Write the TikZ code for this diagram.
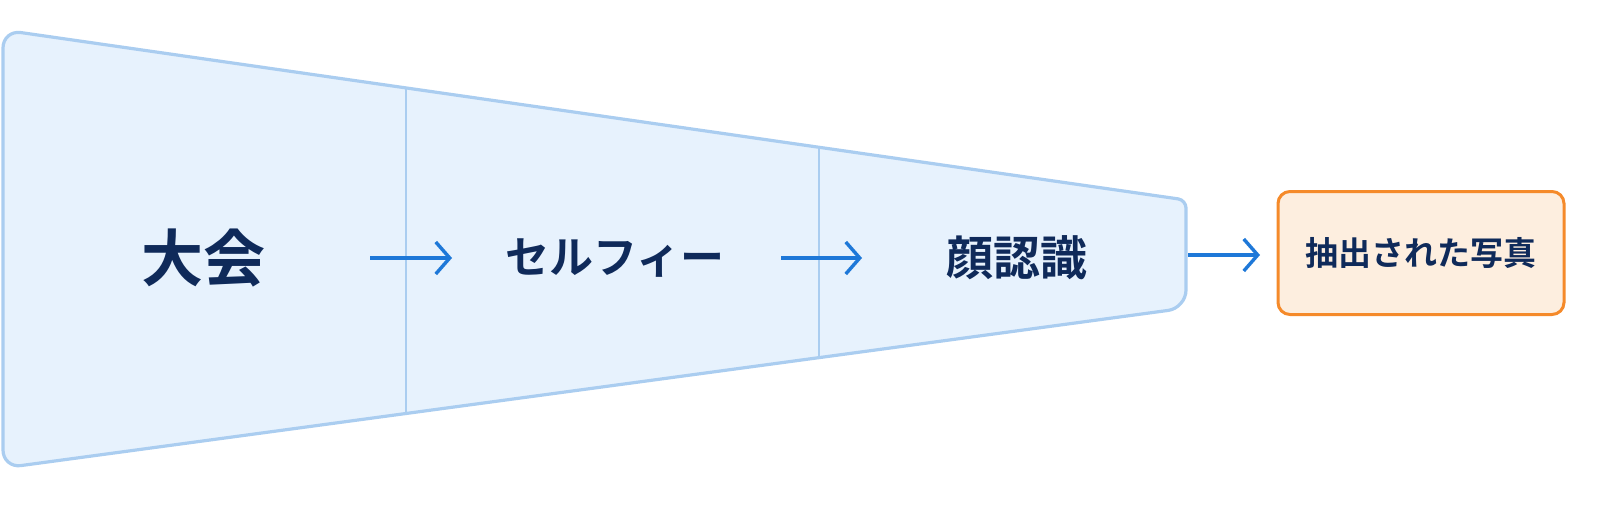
\documentclass[tikz,border=0pt]{standalone}
\usepackage{fontspec}
\newfontfamily\jp{Noto Sans CJK JP}[BoldFont={Noto Sans CJK JP Bold}]
\usetikzlibrary{arrows.meta}
\definecolor{funfill}{HTML}{E7F2FD}
\definecolor{funline}{HTML}{AACDF0}
\definecolor{arrowblue}{HTML}{1E78D8}
\definecolor{textnavy}{HTML}{0F2A5A}
\definecolor{boxline}{HTML}{F58A2A}
\definecolor{boxfill}{HTML}{FDEEDF}
\tikzset{
    txt/.style={text=textnavy, inner sep=0pt},
    flow/.style={arrowblue, line width=1.7pt, -{Straight Barb[length=7pt, width=16pt, line width=1.7pt]}}
}
\begin{document}
\begin{tikzpicture}[x=0.5pt, y=-0.5pt]
    \useasboundingbox (0, 0) rectangle (1600, 509);

    \coordinate (tl) at (3, 30);
    \coordinate (bl) at (3, 468);
    \coordinate (tr) at (1186, 200);
    \coordinate (br) at (1186, 308);
    \filldraw[fill=funfill, draw=funline, line width=1.6pt, rounded corners=9pt]
        (tr) -- (tl) -- (bl) -- (br) [rounded corners=4pt] -- cycle;

    \coordinate (t1) at (406, 88);
    \coordinate (b1) at (406, 413);
    \coordinate (t2) at (819, 147);
    \coordinate (b2) at (819, 358);
    \draw[funline, line width=1.2pt] (t1) -- (b1);
    \draw[funline, line width=1.2pt] (t2) -- (b2);

    \node[txt, font=\jp\bfseries\fontsize{31}{31}\selectfont] (0) at (203, 258) {大会};
    \node[txt, font=\jp\bfseries\fontsize{22}{22}\selectfont] (1) at (615, 258) {セルフィー};
    \node[txt, font=\jp\bfseries\fontsize{23.5}{23.5}\selectfont] (2) at (1017, 258) {顔認識};
    \node[txt, font=\jp\bfseries\fontsize{16.5}{16.5}\selectfont, draw=boxline, fill=boxfill,
        line width=1.5pt, rounded corners=6pt, minimum width=143pt, minimum height=61.5pt] (3) at (1421, 253) {抽出された写真};

    \coordinate (a0) at (370, 258);
    \coordinate (a1) at (452, 258);
    \coordinate (a2) at (781, 258);
    \coordinate (a3) at (862, 258);
    \coordinate (a4) at (1188, 255);
    \coordinate (a5) at (1260, 255);
    \draw[flow] (a0) -- (a1);
    \draw[flow] (a2) -- (a3);
    \draw[flow] (a4) -- (a5);
\end{tikzpicture}
\end{document}
